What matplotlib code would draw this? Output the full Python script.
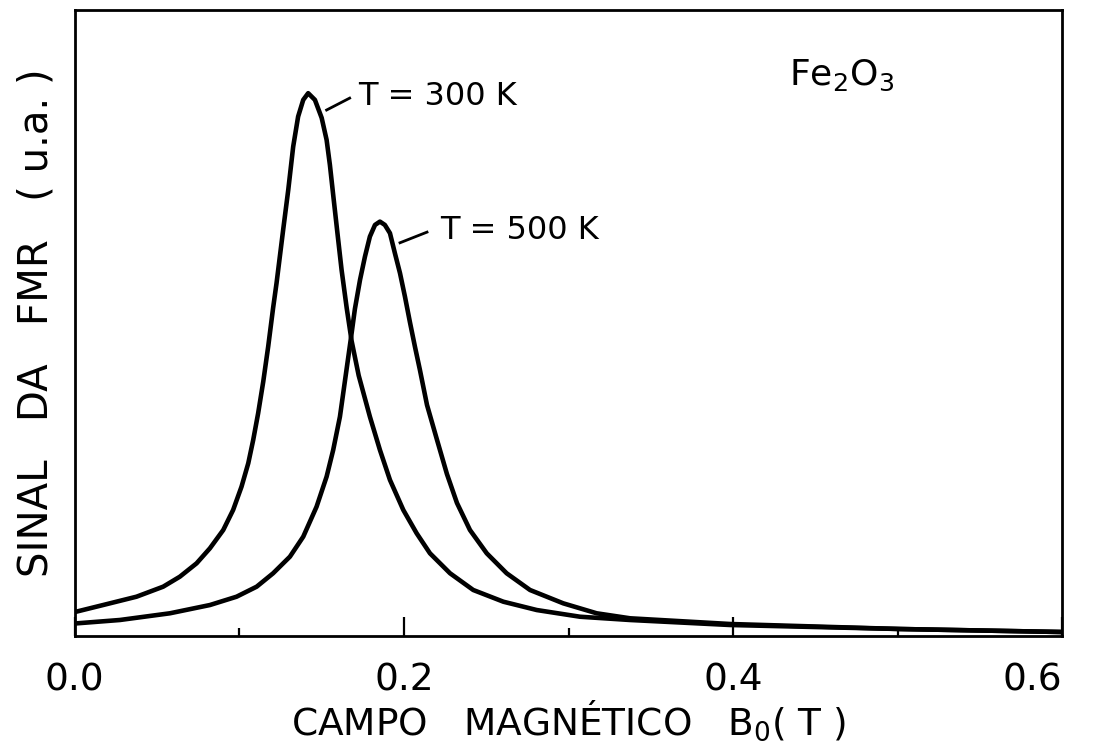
import matplotlib
matplotlib.use("Agg")
import matplotlib.pyplot as plt

# FMR signal of Fe2O3 at two temperatures (arbitrary units)
campo_300 = [0.0000, 0.0172, 0.0375, 0.0537, 0.0638, 0.0740, 0.0821, 0.0902, 0.0962, 0.1013,
             0.1054, 0.1084, 0.1114, 0.1145, 0.1175, 0.1205, 0.1226, 0.1266, 0.1297, 0.1327,
             0.1357, 0.1388, 0.1418, 0.1459, 0.1500, 0.1530, 0.1550, 0.1570, 0.1595, 0.1621,
             0.1652, 0.1682, 0.1725, 0.1793, 0.1854, 0.1915, 0.1996, 0.2077, 0.2158, 0.2280,
             0.2421, 0.2604, 0.2807, 0.3070, 0.3374, 0.3982, 0.5015, 0.6000]
sinal_300 = [3.83, 4.95, 6.28, 7.88, 9.47, 11.61, 14.01, 16.93, 20.13, 23.85,
             27.59, 31.31, 35.57, 40.62, 46.21, 52.40, 56.39, 64.86, 71.25, 78.16,
             82.96, 85.62, 86.69, 85.62, 82.75, 79.23, 75.24, 70.45, 64.54, 58.47,
             52.40, 47.12, 41.60, 35.03, 29.71, 24.92, 20.13, 16.41, 13.21, 10.02,
             7.35, 5.48, 4.15, 3.08, 2.56, 1.76, 1.12, 0.64]

campo_500 = [0.0000, 0.0274, 0.0578, 0.0821, 0.0983, 0.1105, 0.1205, 0.1307, 0.1388, 0.1469,
             0.1530, 0.1570, 0.1611, 0.1678, 0.1702, 0.1733, 0.1763, 0.1793, 0.1824, 0.1854,
             0.1884, 0.1915, 0.1945, 0.1976, 0.2006, 0.2036, 0.2067, 0.2097, 0.2140, 0.2201,
             0.2261, 0.2322, 0.2401, 0.2503, 0.2624, 0.2766, 0.2968, 0.3171, 0.3374, 0.3982,
             0.5015, 0.6000]
sinal_500 = [2.00, 2.56, 3.63, 4.95, 6.28, 7.88, 10.02, 12.67, 15.86, 20.65,
             25.45, 29.71, 35.03, 47.60, 52.24, 56.87, 60.59, 63.79, 65.65, 66.18,
             65.65, 64.33, 61.13, 57.94, 54.20, 50.16, 46.17, 42.49, 36.90, 31.31,
             25.88, 21.25, 16.93, 13.21, 10.02, 7.35, 5.22, 3.63, 2.83, 1.92,
             1.12, 0.64]

ticks_major = [0.0, 0.2, 0.4, 0.6]
tick_labels = ["0.0", "0.2", "0.4", "0.6"]
ticks_minor = [0.1, 0.3, 0.5]

plt.rcParams["font.family"] = "DejaVu Sans"
plt.rcParams["mathtext.default"] = "regular"

fig = plt.figure(figsize=(11, 7.56), dpi=100)
ax = fig.add_axes([0.068, 0.1587, 0.8977, 0.8283])

ax.plot(campo_300, sinal_300, color="black", lw=3.3, solid_joinstyle="round")
ax.plot(campo_500, sinal_500, color="black", lw=3.3, solid_joinstyle="round")

ax.set_xlim(0, 0.6)
ax.set_ylim(0, 100)

for s in ax.spines.values():
    s.set_linewidth(2)

ax.set_xticks(ticks_major)
ax.set_xticklabels(tick_labels)
ax.set_xticks(ticks_minor, minor=True)
ax.tick_params(axis="x", which="major", direction="in", length=14, width=1.6,
               labelsize=27, pad=19)
ax.tick_params(axis="x", which="minor", direction="in", length=6, width=1.6)
ax.set_yticks([])
# last label sits inside the frame edge
ax.get_xticklabels()[-1].set_horizontalalignment("right")

ax.set_xlabel("CAMPO   MAGNÉTICO   B$_0$( T )", fontsize=27, labelpad=0)
ax.set_ylabel("SINAL   DA   FMR   ( u.a. )", fontsize=29, labelpad=13)

# curve labels with short leader lines
ax.text(0.172, 86.2, "T = 300 K", fontsize=23, va="center", ha="left")
ax.plot([0.153, 0.167], [84.0, 85.9], color="black", lw=2)
ax.text(0.222, 64.7, "T = 500 K", fontsize=23, va="center", ha="left")
ax.plot([0.1976, 0.214], [62.8, 64.5], color="black", lw=2)

ax.text(0.434, 89.5, "Fe$_2$O$_3$", fontsize=26, va="center", ha="left")

fig.savefig("out.png", dpi=100)
